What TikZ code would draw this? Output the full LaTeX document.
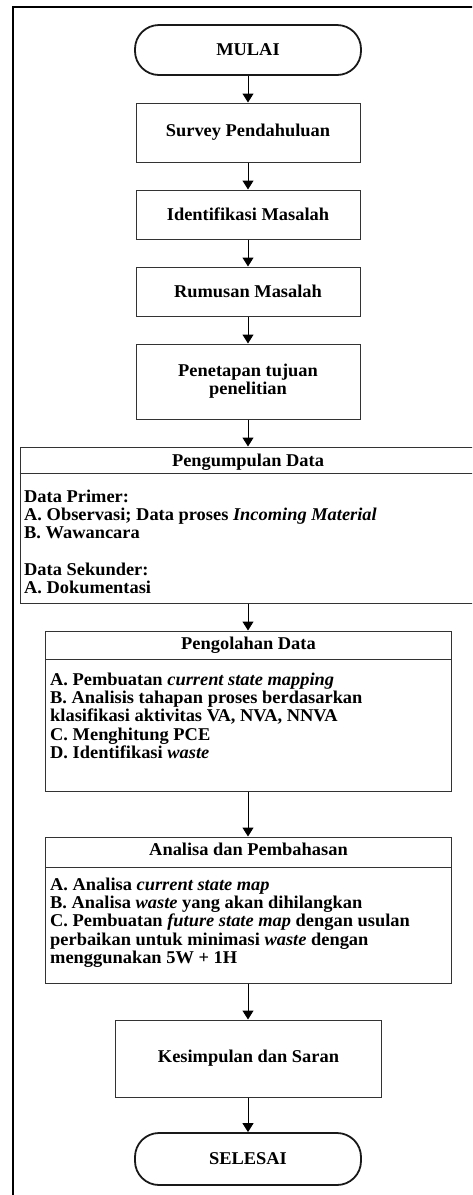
\documentclass[tikz,border=0pt]{standalone}
\usepackage{fontspec}
\setmainfont{Liberation Serif}[FakeStretch=1.023]
\usetikzlibrary{arrows.meta}
\newcommand\myfs{\fontsize{18}{18.2}\selectfont\bfseries}
\begin{document}
\begin{tikzpicture}[x=1pt,y=-1pt,
  box/.style={draw=black!80, line width=1pt, inner sep=0pt, font=\myfs, align=center},
  term/.style={draw=black!90, line width=1.8pt, rounded corners=24pt, inner sep=0pt,
    minimum width=226pt, font=\myfs},
  head/.style={inner sep=0pt, font=\myfs, anchor=base},
  body/.style={inner sep=0pt, font=\myfs, align=left, anchor=north west},
  divider/.style={draw=black!80, line width=1pt},
  frame/.style={draw=black, line width=2pt},
  arr/.style={draw=black, line width=1pt, -{Triangle[width=11pt,length=9pt]}}
]
\useasboundingbox (0,0) rectangle (472,1195);
\clip (0,0) rectangle (472,1195);

% outer frame (left and top only)
\draw[frame] (13,1200) -- (13,7) -- (480,7);

% nodes
\node[term, minimum height=50pt] (mulai) at (248,50) {MULAI};
\node[box, minimum width=224pt, minimum height=59pt] (survey) at (248,132.5) {Survey Pendahuluan};
\node[box, minimum width=224pt, minimum height=49pt] (ident) at (248,214.5) {Identifikasi Masalah};
\node[box, minimum width=224pt, minimum height=49pt] (rumus) at (248,291.5) {Rumusan Masalah};
\node[box, minimum width=224pt, minimum height=75pt] (tujuan) at (248,381.5) {Penetapan tujuan\\penelitian};

\node[box, minimum width=456pt, minimum height=156pt] (kumpul) at (248,525) {};
\draw[divider] (kumpul.west |- 0,473) -- (kumpul.east |- 0,473);
\node[head] (kumpulh) at (248,466) {Pengumpulan Data};
\node[body] (kumpulb) at (24,489.8) {Data Primer:\\
A. Observasi; Data proses \textit{Incoming Material}\\
B. Wawancara\\[18.2pt]
Data Sekunder:\\
A. Dokumentasi};

\node[box, minimum width=406pt, minimum height=160pt] (olah) at (248.5,711) {};
\draw[divider] (olah.west |- 0,659) -- (olah.east |- 0,659);
\node[head] (olahh) at (248.5,649) {Pengolahan Data};
\node[body] (olahb) at (50,672.8) {A. Pembuatan \textit{current state mapping}\\
B. Analisis tahapan proses berdasarkan\\
klasifikasi aktivitas VA, NVA, NNVA\\
C. Menghitung PCE\\
D. Identifikasi \textit{waste}};

\node[box, minimum width=406pt, minimum height=146pt] (analisa) at (248.5,910) {};
\draw[divider] (analisa.west |- 0,867) -- (analisa.east |- 0,867);
\node[head] (analisah) at (248.5,855) {Analisa dan Pembahasan};
\node[body] (analisab) at (50,877.8) {A. Analisa \textit{current state map}\\
B. Analisa \textit{waste} yang akan dihilangkan\\
C. Pembuatan \textit{future state map} dengan usulan\\
perbaikan untuk minimasi \textit{waste} dengan\\
menggunakan 5W + 1H};

\node[box, minimum width=266pt, minimum height=77pt] (simpul) at (248.5,1058.5) {Kesimpulan dan Saran};
\node[term, minimum height=52pt] (selesai) at (248,1159) {SELESAI};

% connectors
\draw[arr] (mulai) -- (survey);
\draw[arr] (survey) -- (ident);
\draw[arr] (ident) -- (rumus);
\draw[arr] (rumus) -- (tujuan);
\draw[arr] (tujuan.south) -- (kumpul.north -| tujuan.south);
\draw[arr] (kumpul.south -| tujuan.south) -- (olah.north -| tujuan.south);
\draw[arr] (olah.south -| tujuan.south) -- (analisa.north -| tujuan.south);
\draw[arr] (analisa.south -| tujuan.south) -- (simpul.north -| tujuan.south);
\draw[arr] (simpul.south -| tujuan.south) -- (selesai.north);
\end{tikzpicture}
\end{document}
